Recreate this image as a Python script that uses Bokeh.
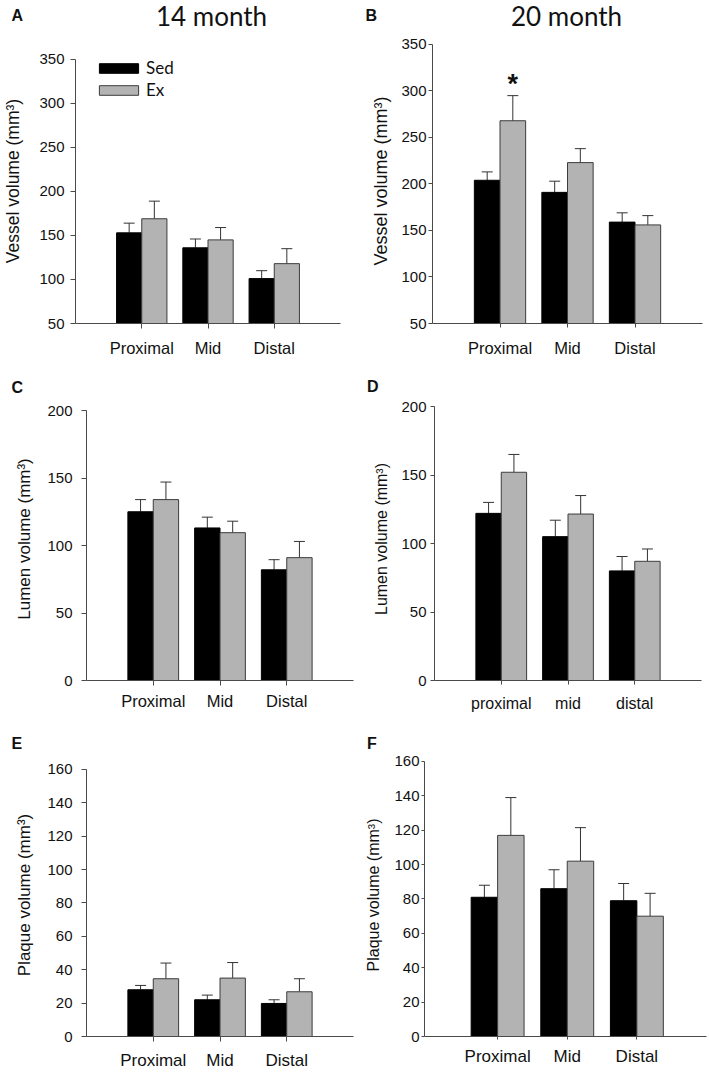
from bokeh.plotting import figure
from bokeh.layouts import column, row
from bokeh.models import (Range1d, FixedTicker, Whisker, TeeHead, Label, Legend,
                          LegendItem, ColumnDataSource)
from bokeh.core.properties import value
from bokeh.embed import file_html
from bokeh.resources import INLINE

# ---------------- data ----------------
segments = ["Proximal", "Mid", "Distal"]
segments_lower = ["proximal", "mid", "distal"]
groups = ["Sed", "Ex"]
ages = ["14 month", "20 month"]
panel_letters = ["A", "B", "C", "D", "E", "F"]
y_labels = ["Vessel volume (mm³)", "Lumen volume (mm³)", "Plaque volume (mm³)"]

vessel_14_sed = [153, 136, 101]
vessel_14_sed_sem = [11, 10, 9]
vessel_14_ex = [169, 145, 118]
vessel_14_ex_sem = [20, 14, 17]

vessel_20_sed = [204, 191, 159]
vessel_20_sed_sem = [9, 12, 10]
vessel_20_ex = [268, 223, 156]
vessel_20_ex_sem = [27, 15, 10]

lumen_14_sed = [125, 113, 82]
lumen_14_sed_sem = [9, 8, 7.5]
lumen_14_ex = [134, 109.5, 91]
lumen_14_ex_sem = [13, 8.5, 12]

lumen_20_sed = [122, 105, 80]
lumen_20_sed_sem = [8, 12, 10.5]
lumen_20_ex = [152, 121.5, 87]
lumen_20_ex_sem = [13, 13.5, 9]

plaque_14_sed = [28, 22, 19.8]
plaque_14_sed_sem = [2.6, 2.8, 2.2]
plaque_14_ex = [34.6, 35, 26.8]
plaque_14_ex_sem = [9.4, 9.3, 7.8]

plaque_20_sed = [81, 86, 79]
plaque_20_sed_sem = [7, 11, 10]
plaque_20_ex = [117, 102, 70]
plaque_20_ex_sem = [22, 19.5, 13.3]

significant = "*"

# ---------------- style ----------------
ARIAL = "Liberation Sans"
CAL = "Lato"
AXIS_COL = "#4a4a4a"
SED_COL = "#000000"
EX_COL = "#b3b3b3"
EX_LINE = "#3c3c3c"
ERR_COL = "#333333"
TXT = "#111111"
BAR_W = 0.38
FULL_W = 708
COL_W = 354


def make_header(h, items):
    p = figure(width=FULL_W, height=h, x_range=Range1d(0, FULL_W), y_range=Range1d(0, h),
               x_axis_type=None, y_axis_type=None, output_backend="svg",
               toolbar_location=None, min_border=0)
    p.outline_line_color = None
    p.border_fill_color = "white"
    for (x, y, txt, font, size, style) in items:
        p.add_layout(Label(x=x, y=y, x_units="screen", y_units="screen", text=txt,
                           text_font=font, text_font_size=size, text_font_style=style,
                           text_align="left" if len(txt) == 1 else "center",
                           text_baseline="middle", text_color=TXT))
    return p


def make_panel(cfg, row_top, row_h, frame_top, frame_bottom, sed, sed_sem, ex, ex_sem,
               labels, ylabel, legend=False, star_index=None):
    y0, ytop, ystep = cfg["y"]
    axis_top = cfg["axis_top"]
    scale = (frame_bottom - axis_top) / (ytop - y0)
    y_end = ytop + (axis_top - frame_top) / scale
    l, r = cfg["lr"]
    p = figure(width=COL_W, height=row_h,
               x_range=Range1d(cfg["xstart"], 4), y_range=Range1d(y0, y_end),
               output_backend="svg", toolbar_location=None,
               min_border_left=l, min_border_right=r,
               min_border_top=frame_top - row_top,
               min_border_bottom=row_top + row_h - frame_bottom)
    p.xgrid.visible = False
    p.ygrid.visible = False
    p.outline_line_color = None
    p.border_fill_color = "white"

    pos = [i + 1 for i in range(len(labels))]
    x_sed = [c - BAR_W / 2 for c in pos]
    x_ex = [c + BAR_W / 2 for c in pos]

    src_sed = ColumnDataSource(dict(x=x_sed, top=sed,
                                    upper=[m + s for m, s in zip(sed, sed_sem)]))
    src_ex = ColumnDataSource(dict(x=x_ex, top=ex,
                                   upper=[m + s for m, s in zip(ex, ex_sem)]))

    for src in (src_sed, src_ex):
        p.add_layout(Whisker(source=src, base="x", upper="upper", lower="top",
                             dimension="height", line_color=ERR_COL, line_width=1,
                             upper_head=TeeHead(size=11, line_color=ERR_COL, line_width=1),
                             lower_head=None, level="underlay"))

    r_sed = p.vbar(x="x", top="top", bottom=y0, width=BAR_W, source=src_sed,
                   fill_color=SED_COL, line_color=SED_COL, line_width=1)
    r_ex = p.vbar(x="x", top="top", bottom=y0, width=BAR_W, source=src_ex,
                  fill_color=EX_COL, line_color=EX_LINE, line_width=1)

    for ax in (p.xaxis[0], p.yaxis[0]):
        ax.axis_line_color = AXIS_COL
        ax.axis_line_width = 1
        ax.major_tick_line_color = AXIS_COL
        ax.minor_tick_line_color = None
        ax.major_tick_in = 0
        ax.major_tick_out = cfg["tick"]
        ax.major_label_text_font = ARIAL
        ax.major_label_text_color = TXT

    p.xaxis.ticker = FixedTicker(ticks=pos)
    p.xaxis.major_label_overrides = {c: lab for c, lab in zip(pos, labels)}
    p.xaxis.major_label_text_font_size = cfg["xfs"]
    p.xaxis.major_label_standoff = cfg["xstand"]

    p.yaxis.ticker = FixedTicker(ticks=list(range(y0, ytop + 1, ystep)))
    p.yaxis.bounds = (y0, ytop)
    p.yaxis.major_label_text_font_size = "15px"
    p.yaxis.major_label_standoff = cfg["ystand"]
    p.yaxis.axis_label = ylabel
    p.yaxis.axis_label_text_font = ARIAL
    p.yaxis.axis_label_text_font_style = "normal"
    p.yaxis.axis_label_text_font_size = cfg["ylfs"]
    p.yaxis.axis_label_text_color = TXT
    p.yaxis.axis_label_standoff = cfg["ylstand"]

    if legend:
        lg = Legend(items=[LegendItem(label=groups[0], renderers=[r_sed]),
                           LegendItem(label=groups[1], renderers=[r_ex])],
                    location=(19, frame_bottom - 101), orientation="vertical",
                    glyph_width=49, glyph_height=12, label_standoff=3,
                    label_text_font=CAL, label_text_font_size="17px",
                    label_text_color=TXT, label_height=12,
                    spacing=1, padding=0, margin=0,
                    border_line_color=None, background_fill_alpha=0)
        p.add_layout(lg)
    if star_index is not None:
        i = star_index
        p.text(x=[x_ex[i]], y=[ex[i] + ex_sem[i]], text=[significant],
               text_font=value(ARIAL), text_font_style="bold", text_font_size="27px",
               text_align="center", text_baseline="middle", y_offset=-12,
               text_color=TXT)
    return p


# page layout (pixel positions on the page)
cfgA = dict(lr=(73, 14), xstart=0, y=(50, 350, 50), axis_top=59,
            tick=5, ystand=6, xstand=10, xfs="16.5px", ylfs="17.5px", ylstand=13)
cfgB = dict(lr=(78, 6), xstart=0, y=(50, 350, 50), axis_top=44,
            tick=4, ystand=2, xstand=11, xfs="16.5px", ylfs="18px", ylstand=7)
cfgC = dict(lr=(86, 1), xstart=0, y=(0, 200, 50), axis_top=410,
            tick=5, ystand=9, xstand=6, xfs="16.5px", ylfs="17px", ylstand=10)
cfgD = dict(lr=(80, 7), xstart=0, y=(0, 200, 50), axis_top=406,
            tick=4, ystand=4, xstand=10, xfs="16px", ylfs="16px", ylstand=8)
cfgE = dict(lr=(86, 1), xstart=0, y=(0, 160, 20), axis_top=769,
            tick=5, ystand=9, xstand=9, xfs="17px", ylfs="17px", ylstand=10)
cfgF = dict(lr=(70, 2), xstart=-0.05, y=(0, 160, 20), axis_top=761,
            tick=3, ystand=2, xstand=7, xfs="17px", ylfs="16px", ylstand=9)

# header 1: y 0..31
hdr1 = make_header(31, [(11, 16.5, panel_letters[0], ARIAL, "16px", "bold"),
                        (211, 15.4, ages[0], CAL, "26px", "normal"),
                        (365, 16.5, panel_letters[1], ARIAL, "16px", "bold"),
                        (566, 15.4, ages[1], CAL, "26px", "normal")])
# row 1: y 31..359
pA = make_panel(cfgA, 31, 328, 38, 324, vessel_14_sed, vessel_14_sed_sem,
                vessel_14_ex, vessel_14_ex_sem, segments, y_labels[0], legend=True)
pB = make_panel(cfgB, 31, 328, 38, 324, vessel_20_sed, vessel_20_sed_sem,
                vessel_20_ex, vessel_20_ex_sem, segments, y_labels[0], star_index=0)
# header 2: y 359..396
hdr2 = make_header(37, [(11, 9, panel_letters[2], ARIAL, "16px", "bold"),
                        (366.5, 10, panel_letters[3], ARIAL, "16px", "bold")])
# row 2: y 396..716
pC = make_panel(cfgC, 396, 320, 397, 680, lumen_14_sed, lumen_14_sed_sem,
                lumen_14_ex, lumen_14_ex_sem, segments, y_labels[1])
pD = make_panel(cfgD, 396, 320, 397, 680, lumen_20_sed, lumen_20_sed_sem,
                lumen_20_ex, lumen_20_ex_sem, segments_lower, y_labels[1])
# header 3: y 716..752
hdr3 = make_header(36, [(11, 9, panel_letters[4], ARIAL, "16px", "bold"),
                        (366.5, 9, panel_letters[5], ARIAL, "16px", "bold")])
# row 3: y 752..1072
pE = make_panel(cfgE, 752, 320, 753, 1037, plaque_14_sed, plaque_14_sed_sem,
                plaque_14_ex, plaque_14_ex_sem, segments, y_labels[2])
pF = make_panel(cfgF, 752, 320, 753, 1037, plaque_20_sed, plaque_20_sed_sem,
                plaque_20_ex, plaque_20_ex_sem, segments, y_labels[2])

layout = column(hdr1, row(pA, pB, spacing=0), hdr2, row(pC, pD, spacing=0),
                hdr3, row(pE, pF, spacing=0), spacing=0)

open("out.html", "w").write(file_html(layout, INLINE))
